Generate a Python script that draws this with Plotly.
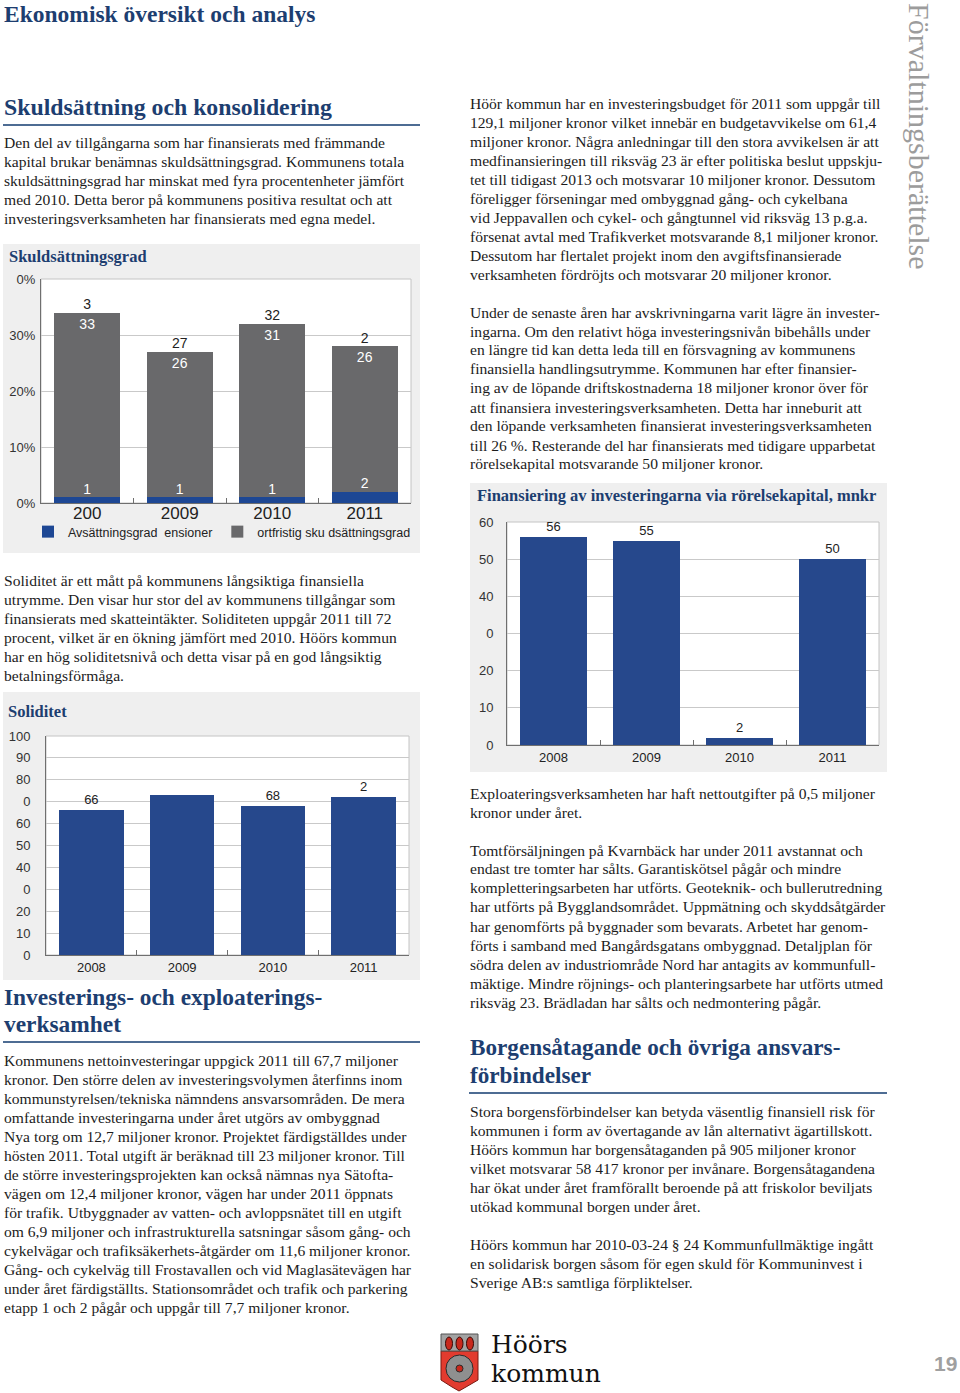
import plotly.graph_objects as go

W, H = 960, 1393


def px(x):
    return x / W


def py(y):
    return 1 - y / H


# ---------------- DATA ----------------
years = ["2008", "2009", "2010", "2011"]

# Skuldsättningsgrad (procent)
skuld_xticktext = ["200", "2009", "2010", "2011"]
pension_pct = [1, 1, 1, 2]
kortfristig_pct = [33, 26, 31, 26]
pension_labels = ["1", "1", "1", "2"]
kortfristig_labels = ["33", "26", "31", "26"]
skuld_total_labels = ["3", "27", "32", "2"]
skuld_yticks = [0, 10, 20, 30, 40]
skuld_yticktext = ["0%", "10%", "20%", "30%", "0%"]
pension_name = "Avsättningsgrad\u00a0\u00a0ensioner"
kortfristig_name = "ortfristig sku dsättningsgrad"

# Soliditet (procent)
soliditet = [66, 73, 68, 72]
soliditet_labels = ["66", "", "68", "2"]
sol_yticks = [0, 10, 20, 30, 40, 50, 60, 70, 80, 90, 100]
sol_yticktext = ["0", "10", "20", "0", "40", "50", "60", "0", "80", "90", "100"]

# Finansiering via rörelsekapital (mnkr)
finans = [56, 55, 2, 50]
finans_labels = ["56", "55", "2", "50"]
fin_yticks = [0, 10, 20, 30, 40, 50, 60]
fin_yticktext = ["0", "10", "20", "0", "40", "50", "60"]

# ---------------- TEXT ----------------
intro_lines = [
    "Den del av tillgångarna som har finansierats med främmande",
    "kapital brukar benämnas skuldsättningsgrad. Kommunens totala",
    "skuldsättningsgrad har minskat med fyra procentenheter jämfört",
    "med 2010. Detta beror på kommunens positiva resultat och att",
    "investeringsverksamheten har finansierats med egna medel.",
]
soliditet_lines = [
    "Soliditet är ett mått på kommunens långsiktiga finansiella",
    "utrymme. Den visar hur stor del av kommunens tillgångar som",
    "finansierats med skatteintäkter. Soliditeten uppgår 2011 till 72",
    "procent, vilket är en ökning jämfört med 2010. Höörs kommun",
    "har en hög soliditetsnivå och detta visar på en god långsiktig",
    "betalningsförmåga.",
]
invest_lines = [
    "Kommunens nettoinvesteringar uppgick 2011 till 67,7 miljoner",
    "kronor. Den större delen av investeringsvolymen återfinns inom",
    "kommunstyrelsen/tekniska nämndens ansvarsområden. De mera",
    "omfattande investeringarna under året utgörs av ombyggnad",
    "Nya torg om 12,7 miljoner kronor. Projektet färdigställdes under",
    "hösten 2011. Total utgift är beräknad till 23 miljoner kronor. Till",
    "de större investeringsprojekten kan också nämnas nya Sätofta-",
    "vägen om 12,4 miljoner kronor, vägen har under 2011 öppnats",
    "för trafik. Utbyggnader av vatten- och avloppsnätet till en utgift",
    "om 6,9 miljoner och infrastrukturella satsningar såsom gång- och",
    "cykelvägar och trafiksäkerhets-åtgärder om 11,6 miljoner kronor.",
    "Gång- och cykelväg till Frostavallen och vid Maglasätevägen har",
    "under året färdigställts. Stationsområdet och trafik och parkering",
    "etapp 1 och 2 pågår och uppgår till 7,7 miljoner kronor.",
]
budget_lines = [
    "Höör kommun har en investeringsbudget för 2011 som uppgår till",
    "129,1 miljoner kronor vilket innebär en budgetavvikelse om 61,4",
    "miljoner kronor. Några anledningar till den stora avvikelsen är att",
    "medfinansieringen till riksväg 23 är efter politiska beslut uppskju-",
    "tet till tidigast 2013 och motsvarar 10 miljoner kronor. Dessutom",
    "föreligger förseningar med ombyggnad gång- och cykelbana",
    "vid Jeppavallen och cykel- och gångtunnel vid riksväg 13 p.g.a.",
    "försenat avtal med Trafikverket motsvarande 8,1 miljoner kronor.",
    "Dessutom har flertalet projekt inom den avgiftsfinansierade",
    "verksamheten fördröjts och motsvarar 20 miljoner kronor.",
]
avskr_lines = [
    "Under de senaste åren har avskrivningarna varit lägre än invester-",
    "ingarna. Om den relativt höga investeringsnivån bibehålls under",
    "en längre tid kan detta leda till en försvagning av kommunens",
    "finansiella handlingsutrymme. Kommunen har efter finansier-",
    "ing av de löpande driftskostnaderna 18 miljoner kronor över för",
    "att finansiera investeringsverksamheten. Detta har inneburit att",
    "den löpande verksamheten finansierat investeringsverksamheten",
    "till 26 %. Resterande del har finansierats med tidigare upparbetat",
    "rörelsekapital motsvarande 50 miljoner kronor.",
]
exploat_lines = [
    "Exploateringsverksamheten har haft nettoutgifter på 0,5 miljoner",
    "kronor under året.",
]
tomt_lines = [
    "Tomtförsäljningen på Kvarnbäck har under 2011 avstannat och",
    "endast tre tomter har sålts. Garantiskötsel pågår och mindre",
    "kompletteringsarbeten har utförts. Geoteknik- och bullerutredning",
    "har utförts på Bygglandsområdet. Uppmätning och skyddsåtgärder",
    "har genomförts på byggnader som bevarats. Arbetet har genom-",
    "förts i samband med Bangårdsgatans ombyggnad. Detaljplan för",
    "södra delen av industriområde Nord har antagits av kommunfull-",
    "mäktige. Mindre röjnings- och planteringsarbete har utförts utmed",
    "riksväg 23. Brädladan har sålts och nedmontering pågår.",
]
borgen_lines = [
    "Stora borgensförbindelser kan betyda väsentlig finansiell risk för",
    "kommunen i form av övertagande av lån alternativt ägartillskott.",
    "Höörs kommun har borgensåtaganden på 905 miljoner kronor",
    "vilket motsvarar 58 417 kronor per invånare. Borgensåtagandena",
    "har ökat under året framförallt beroende på att friskolor beviljats",
    "utökad kommunal borgen under året.",
]
kommuninvest_lines = [
    "Höörs kommun har 2010-03-24 § 24 Kommunfullmäktige ingått",
    "en solidarisk borgen såsom för egen skuld för Kommuninvest i",
    "Sverige AB:s samtliga förpliktelser.",
]

# ---------------- STYLE ----------------
SERIF = "Liberation Serif"
SANS = "Liberation Sans"
HEAD = "#1d3e70"
BODY = "#1c1c1c"
BAR_BLUE = "#26488c"
PEN_BLUE = "#1d4794"
BAR_GRAY = "#69696b"
GRID = "#c9c9c9"
AXIS = "#6f6f6f"
BODY_SIZE = 15.6
LH = 19

fig = go.Figure()

# ---- Chart 1: Skuldsättningsgrad ----
fig.add_trace(go.Bar(x=years, y=pension_pct, name=pension_name, marker=dict(color=PEN_BLUE, line=dict(width=0)),
                     xaxis="x", yaxis="y", hoverinfo="skip"))
fig.add_trace(go.Bar(x=years, y=kortfristig_pct, name=kortfristig_name,
                     marker=dict(color=BAR_GRAY, line=dict(width=0)),
                     text=kortfristig_labels, textposition="inside", insidetextanchor="end",
                     textfont=dict(family=SANS, size=14, color="white"),
                     xaxis="x", yaxis="y", hoverinfo="skip"))
totals = [a + b for a, b in zip(pension_pct, kortfristig_pct)]
fig.add_trace(go.Scatter(x=years, y=totals, mode="text", text=skuld_total_labels, textposition="top center",
                         textfont=dict(family=SANS, size=14, color="#222"), showlegend=False,
                         xaxis="x", yaxis="y", hoverinfo="skip", cliponaxis=False))
fig.add_trace(go.Scatter(x=years, y=pension_pct, mode="text", text=pension_labels, textposition="top center",
                         textfont=dict(family=SANS, size=14, color="white"), showlegend=False,
                         xaxis="x", yaxis="y", hoverinfo="skip", cliponaxis=False))

# ---- Chart 2: Soliditet ----
fig.add_trace(go.Bar(x=years, y=soliditet, marker=dict(color=BAR_BLUE, line=dict(width=0)),
                     text=soliditet_labels, textposition="outside",
                     textfont=dict(family=SANS, size=13, color="#222"), cliponaxis=False,
                     showlegend=False, xaxis="x2", yaxis="y2", hoverinfo="skip"))

# ---- Chart 3: Finansiering ----
fig.add_trace(go.Bar(x=years, y=finans, marker=dict(color=BAR_BLUE, line=dict(width=0)),
                     text=finans_labels, textposition="outside",
                     textfont=dict(family=SANS, size=13, color="#222"), cliponaxis=False,
                     showlegend=False, xaxis="x3", yaxis="y3", hoverinfo="skip"))

# plot areas (pixel boxes)
P1 = (41, 279, 411, 503)
P2 = (46, 736, 409, 955)
P3 = (507, 522, 879, 745)


def xax(box, ticktext, size, standoff):
    return dict(domain=[px(box[0]), px(box[2])], type="category", tickmode="array", tickvals=years,
                ticktext=ticktext, tickson="boundaries", ticks="inside", ticklen=5, tickcolor=AXIS,
                showgrid=False, showline=True, linecolor=AXIS, linewidth=1, zeroline=False,
                tickfont=dict(family=SANS, size=size, color="#222"), ticklabelstandoff=standoff,
                fixedrange=True, automargin=False)


def yax(box, rng, tv, tt, standoff):
    return dict(domain=[py(box[3]), py(box[1])], range=rng, tickmode="array", tickvals=tv, ticktext=tt,
                showgrid=True, gridcolor=GRID, gridwidth=1, showline=True, linecolor=AXIS, linewidth=1,
                zeroline=False, ticks="", tickfont=dict(family=SANS, size=13, color="#333"),
                ticklabelstandoff=standoff, fixedrange=True, automargin=False)


shapes = []
annotations = []


def rect(x0, y0, x1, y1, fill, line=None, lw=0):
    shapes.append(dict(type="rect", xref="paper", yref="paper", x0=px(x0), x1=px(x1), y0=py(y1), y1=py(y0),
                       fillcolor=fill, line=dict(color=line or fill, width=lw), layer="below"))


def hline(x0, x1, y, color, width):
    shapes.append(dict(type="line", xref="paper", yref="paper", x0=px(x0), x1=px(x1), y0=py(y), y1=py(y),
                       line=dict(color=color, width=width), layer="above"))


def txt(x, y, s, size=BODY_SIZE, color=BODY, family=SERIF, weight="normal", anchor="left", angle=0):
    annotations.append(dict(x=px(x), y=py(y), xref="paper", yref="paper", text=s, showarrow=False,
                            xanchor=anchor, yanchor="middle", textangle=angle,
                            font=dict(family=family, size=size, color=color, weight=weight)))


def para(x, y0, lines):
    for i, s in enumerate(lines):
        txt(x, y0 + i * LH, s)


# panels
rect(3, 244, 420, 553, "#efefef")
rect(3, 692, 420, 980, "#efefef")
rect(470, 483, 887, 772, "#efefef")
# plot areas
for b in (P1, P2, P3):
    rect(b[0], b[1], b[2], b[3], "white", "#c4c4c4", 1)

# headings and underlines
txt(2, 14, "Ekonomisk översikt och analys", size=23.5, color=HEAD, weight="bold")
txt(2, 107, "Skuldsättning och konsolidering", size=23.8, color=HEAD, weight="bold")
hline(3, 420, 125, "#4d6c93", 2)
txt(2, 997, "Investerings- och exploaterings-", size=23.4, color=HEAD, weight="bold")
txt(2, 1024, "verksamhet", size=23.4, color=HEAD, weight="bold")
hline(3, 420, 1042, "#4d6c93", 2)
txt(468, 1047, "Borgensåtagande och övriga ansvars-", size=23.2, color=HEAD, weight="bold")
txt(468, 1075, "förbindelser", size=23.2, color=HEAD, weight="bold")
hline(469, 887, 1093, "#4d6c93", 2)

# chart titles
txt(7, 256, "Skuldsättningsgrad", size=16.5, color=HEAD, weight="bold")
txt(6, 711, "Soliditet", size=16.5, color=HEAD, weight="bold")
txt(475, 496, "Finansiering av investeringarna via rörelsekapital, mnkr", size=16.5, color=HEAD, weight="bold")

# paragraphs
para(2, 143, intro_lines)
para(2, 580, soliditet_lines)
para(2, 1060, invest_lines)
para(468, 103, budget_lines)
para(468, 312, avskr_lines)
para(468, 793, exploat_lines)
para(468, 850, tomt_lines)
para(468, 1111, borgen_lines)
para(468, 1244, kommuninvest_lines)

# vertical side title
txt(919, 136, "Förvaltningsberättelse", size=30, color="#9c9c9c", anchor="center", angle=90)


# logo
def path(points):
    return "M " + " L ".join(f"{px(x):.5f},{py(y):.5f}" for x, y in points) + " Z"


shapes.append(dict(type="path", xref="paper", yref="paper",
                   path=path([(441, 1351), (478, 1351), (478, 1380), (466, 1387), (459, 1391), (452, 1387), (441, 1380)]),
                   fillcolor="#e23b2f", line=dict(color="#7a1a12", width=1), layer="above"))
shapes.append(dict(type="rect", xref="paper", yref="paper", x0=px(441), x1=px(478), y0=py(1351), y1=py(1334),
                   fillcolor="#a3a3a3", line=dict(color="#555", width=1), layer="above"))
for cx in (449, 459.5, 470):
    shapes.append(dict(type="circle", xref="paper", yref="paper", x0=px(cx - 3.5), x1=px(cx + 3.5),
                       y0=py(1350), y1=py(1337), fillcolor="#c8281c", line=dict(color="#3a0a06", width=1),
                       layer="above"))
shapes.append(dict(type="circle", xref="paper", yref="paper", x0=px(446), x1=px(473), y0=py(1382), y1=py(1355),
                   fillcolor="#8f8f8f", line=dict(color="#2a2a2a", width=1), layer="above"))
shapes.append(dict(type="circle", xref="paper", yref="paper", x0=px(456), x1=px(463), y0=py(1372), y1=py(1365),
                   fillcolor="#c8281c", line=dict(color="#2a2a2a", width=1), layer="above"))
txt(489, 1344, "Höörs", size=25, color="#111", family="DejaVu Serif")
txt(489, 1373, "kommun", size=25, color="#111", family="DejaVu Serif")
txt(945, 1363, "19", size=21, color="#a0a0a0", family=SANS, weight="bold", anchor="center")

fig.update_layout(
    width=W, height=H, margin=dict(l=0, r=0, t=0, b=0, autoexpand=False),
    paper_bgcolor="white", plot_bgcolor="rgba(0,0,0,0)",
    barmode="stack", bargap=0.29,
    xaxis=xax(P1, skuld_xticktext, 17, -5),
    yaxis=yax(P1, [0, 40], skuld_yticks, skuld_yticktext, 2),
    xaxis2=dict(xax(P2, years, 13, 0), anchor="y2"),
    yaxis2=dict(yax(P2, [0, 100], sol_yticks, sol_yticktext, 12), anchor="x2"),
    xaxis3=dict(xax(P3, years, 13, 0), anchor="y3"),
    yaxis3=dict(yax(P3, [0, 60], fin_yticks, fin_yticktext, 10), anchor="x3"),
    showlegend=True,
    legend=dict(orientation="h", x=px(28), y=py(517), xanchor="left", yanchor="top",
                traceorder="normal", font=dict(family=SANS, size=12.5, color="#222"),
                bgcolor="rgba(0,0,0,0)"),
    shapes=shapes, annotations=annotations,
)

fig.write_html("out.html", post_script="document.body.style.margin='0px';",
               config={"displayModeBar": False})
